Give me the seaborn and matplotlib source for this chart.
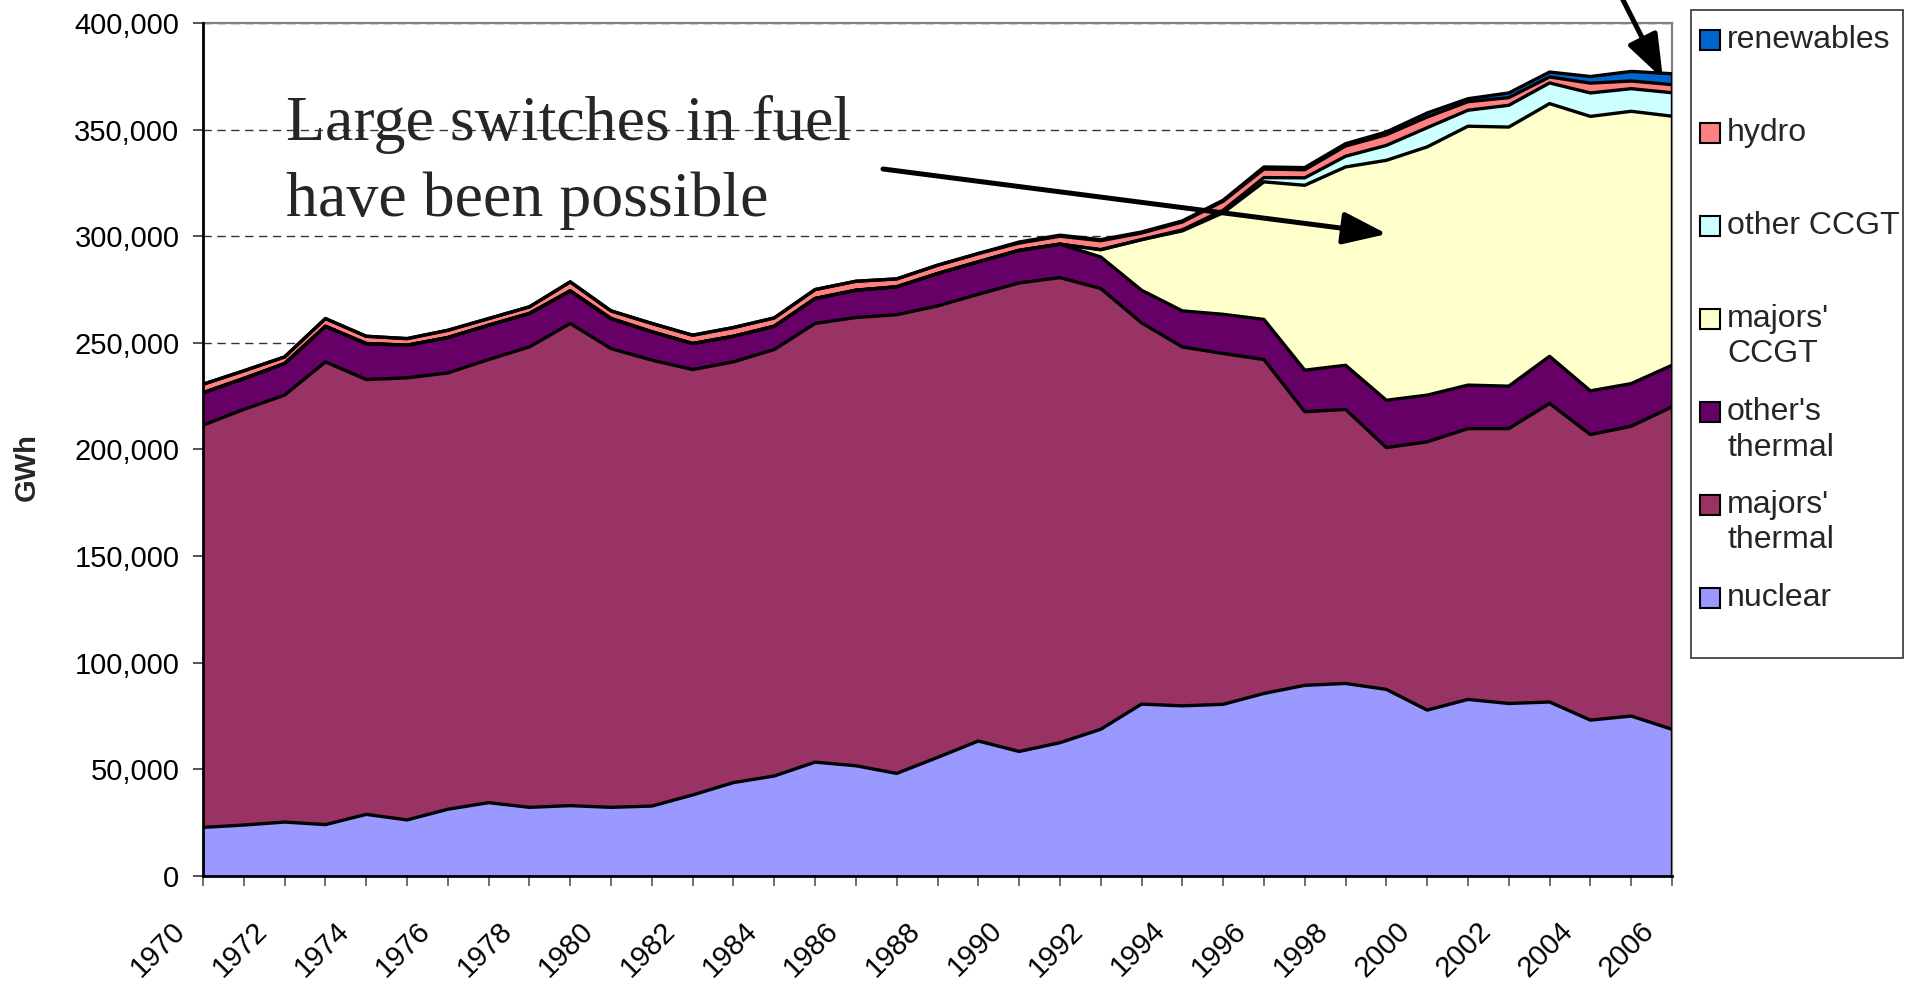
import numpy as np
import pandas as pd
import matplotlib
matplotlib.use("Agg")
import matplotlib.pyplot as plt
import matplotlib.transforms as mtransforms
from matplotlib.patches import Rectangle
from matplotlib.ticker import FuncFormatter
import seaborn as sns

# ---------------- data (GWh) ----------------
years = list(range(1970, 2007))
nuclear = [22800, 23900, 25300, 24100, 28900, 26300, 31300, 34400, 32200, 33000,
           32200, 32800, 38000, 43800, 46900, 53400, 51700, 48100, 55600, 63300,
           58400, 62500, 68800, 80600, 79800, 80500, 85600, 89400, 90300, 87500,
           77800, 82800, 80900, 81600, 73100, 75000, 68800]
majors_thermal = [188600, 194900, 200200, 217000, 203900, 207300, 204600, 207800, 215900, 226100,
                  215100, 209100, 199500, 197300, 200000, 205700, 210200, 215100, 211700, 209500,
                  219700, 218100, 206700, 178800, 168300, 164500, 156600, 128300, 128500, 113400,
                  125800, 127000, 128900, 140000, 133900, 135900, 151200]
others_thermal = [15200, 14500, 14800, 16700, 16900, 15300, 16600, 16100, 15700, 15300,
                  14100, 13300, 12200, 12000, 10900, 11700, 12800, 13100, 15200, 15200,
                  15300, 15700, 14800, 15300, 16900, 18400, 18800, 19500, 20700, 22200,
                  21900, 20400, 19900, 22100, 20500, 20000, 19500]
majors_ccgt = [0, 0, 0, 0, 0, 0, 0, 0, 0, 0,
               0, 0, 0, 0, 0, 0, 0, 0, 0, 0,
               0, 0, 3400, 23700, 37500, 47600, 64500, 86700, 93000, 112500,
               116400, 121400, 121500, 118500, 128700, 127700, 116800]
other_ccgt = [0, 0, 0, 0, 0, 0, 0, 0, 0, 0,
              0, 0, 0, 0, 0, 0, 0, 0, 0, 0,
              0, 0, 0, 0, 500, 1200, 2000, 3500, 5000, 7000,
              9000, 7500, 10200, 9700, 11000, 10600, 11000]
hydro = [4000, 3600, 3100, 3600, 3400, 3100, 3400, 3100, 3100, 4200,
         3600, 3900, 3900, 4100, 3900, 4200, 4200, 3700, 3900, 3900,
         3400, 3700, 4200, 3100, 3700, 4200, 4000, 3800, 4800, 5000,
         5000, 4000, 3600, 2800, 4600, 3600, 3800]
renewables = [0, 0, 0, 0, 0, 0, 0, 0, 0, 0,
              0, 0, 0, 0, 0, 0, 0, 0, 0, 0,
              500, 500, 500, 500, 500, 500, 1000, 1000, 1100, 1300,
              1900, 1400, 2200, 2300, 3100, 4500, 5100]

series_names = ["nuclear", "majors'\nthermal", "other's\nthermal", "majors'\nCCGT",
                "other CCGT", "hydro", "renewables"]
series_colors = ["#9999FF", "#993366", "#660066", "#FFFFCC", "#CCFFFF", "#FF8080", "#0066CC"]
y_ticks = [0, 50000, 100000, 150000, 200000, 250000, 300000, 350000, 400000]
annotation_lines = ["Large switches in fuel", "have been possible"]

df = pd.DataFrame({"year": years, "nuclear": nuclear, "majors_thermal": majors_thermal,
                   "others_thermal": others_thermal, "majors_ccgt": majors_ccgt,
                   "other_ccgt": other_ccgt, "hydro": hydro, "renewables": renewables})
cols = ["nuclear", "majors_thermal", "others_thermal", "majors_ccgt", "other_ccgt", "hydro", "renewables"]

# ---------------- style ----------------
sns.set_theme(style="ticks")
plt.rcParams["font.family"] = ["Liberation Sans", "DejaVu Sans"]

W, H = 1917, 982
fig = plt.figure(figsize=(W / 100, H / 100), dpi=100)
fig.patch.set_facecolor("white")

def fx(px):
    return px / W

def fy(py):
    return 1 - py / H

ax_l, ax_r, ax_t, ax_b = 203, 1672, 23, 876
ax = fig.add_axes([fx(ax_l), fy(ax_b), fx(ax_r - ax_l), (ax_b - ax_t) / H])
ax.set_facecolor("white")

vals = [df[c].values for c in cols]
ax.stackplot(df["year"], *vals, colors=series_colors, linewidth=0, zorder=2)
cum = np.cumsum(np.vstack(vals), axis=0)
for level in cum:
    ax.plot(df["year"], level, color="black", lw=2.4, zorder=3, solid_joinstyle="round")
ax.plot([df["year"].iloc[-1]] * 2, [0, cum[-1][-1]], color="black", lw=2.4, zorder=3)

ax.set_xlim(years[0], years[-1])
ax.set_ylim(0, 400000)

# grid
ax.set_axisbelow(True)
ax.yaxis.grid(True, linestyle=(0, (6, 4)), color="#333333", lw=1.0)
ax.xaxis.grid(False)

# spines
for s in ["left", "bottom"]:
    ax.spines[s].set_color("black")
    ax.spines[s].set_linewidth(2.0)
    ax.spines[s].set_zorder(4)
for s in ["top", "right"]:
    ax.spines[s].set_visible(True)
    ax.spines[s].set_color("#808080")
    ax.spines[s].set_linewidth(1.6)

# ticks
ax.set_yticks(y_ticks)
ax.yaxis.set_major_formatter(FuncFormatter(lambda v, p: f"{v:,.0f}"))
ax.tick_params(axis="y", direction="out", length=7, width=1.2, color="#333333",
               labelsize=21, pad=10, labelcolor="black")
ax.set_xticks([y for y in years if y % 2 == 0])
ax.set_xticks([y for y in years if y % 2 == 1], minor=True)
ax.tick_params(axis="x", which="both", direction="out", length=7, width=1.2, color="#555555")
ax.tick_params(axis="x", which="major", labelsize=21, pad=22, labelcolor="black")
ax.set_xticklabels([str(y) for y in years if y % 2 == 0], rotation=45, ha="right")
offset = mtransforms.ScaledTranslation(-12 / 100, 0, fig.dpi_scale_trans)
for lab in ax.get_xticklabels():
    lab.set_transform(lab.get_transform() + offset)

ax.set_xlabel("")
ax.set_ylabel("")
fig.text(fx(27), fy(467), "GWh", rotation=90, fontsize=21, fontweight="bold",
         ha="center", va="center")

# annotation text
serif = ["Liberation Serif", "DejaVu Serif"]
fig.text(fx(286), fy(140), annotation_lines[0], fontsize=46, family=serif,
         ha="left", va="baseline")
fig.text(fx(286), fy(216), annotation_lines[1], fontsize=46, family=serif,
         ha="left", va="baseline")

def px_to_data(px, py):
    x = years[0] + (px - ax_l) / (ax_r - ax_l) * (years[-1] - years[0])
    y = (ax_b - py) / (ax_b - ax_t) * 400000
    return x, y

arrow_style = "-|>,head_length=0.6,head_width=0.22"
ax.annotate("", xy=px_to_data(1387, 234), xytext=px_to_data(883, 169),
            arrowprops=dict(arrowstyle=arrow_style, lw=3.6, color="black",
                            mutation_scale=45, shrinkA=0, shrinkB=0),
            annotation_clip=False, zorder=6)
ax.annotate("", xy=px_to_data(1663, 79), xytext=px_to_data(1620, -6),
            arrowprops=dict(arrowstyle=arrow_style, lw=3.6, color="black",
                            mutation_scale=45, shrinkA=0, shrinkB=0),
            annotation_clip=False, zorder=6)

# legend (Excel-like box)
box_top, box_bot, box_left, box_right = 10, 658, 1691, 1903
fig.patches.append(Rectangle((fx(box_left), fy(box_bot)), fx(box_right - box_left),
                             (box_bot - box_top) / H,
                             transform=fig.transFigure, facecolor="white",
                             edgecolor="#333333", lw=1.2, zorder=1))
legend_order = list(range(len(series_names)))[::-1]
for i, idx in enumerate(legend_order):
    ycen = 40 + 93 * i
    fig.patches.append(Rectangle((fx(1700), fy(ycen + 10)), fx(20), 20 / H,
                                 transform=fig.transFigure, facecolor=series_colors[idx],
                                 edgecolor="black", lw=1.5, zorder=2))
    for j, line in enumerate(series_names[idx].split("\n")):
        fig.text(fx(1727), fy(ycen + 35.5 * j), line, fontsize=23, ha="left", va="center")

fig.savefig("out.png", dpi=100)
